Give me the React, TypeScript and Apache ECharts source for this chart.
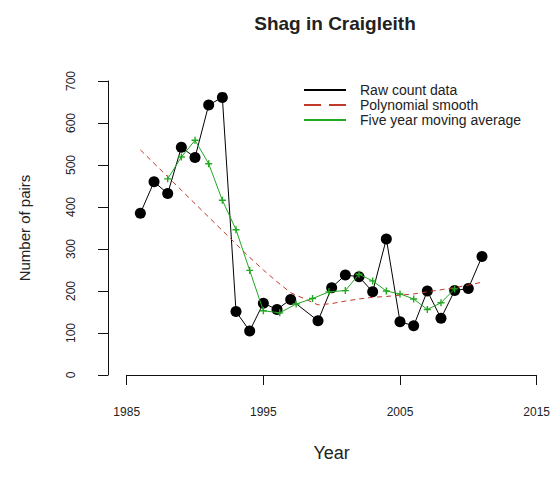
import React, { useEffect, useRef } from "react";
import * as echarts from "echarts";

const rawYears = [1986, 1987, 1988, 1989, 1990, 1991, 1992, 1993, 1994, 1995, 1996, 1997, 1999, 2000, 2001, 2002, 2003, 2004, 2005, 2006, 2007, 2008, 2009, 2010, 2011];
const rawCounts = [385, 460, 432, 542, 518, 643, 661, 151, 105, 171, 156, 180, 129, 208, 238, 234, 198, 324, 127, 117, 200, 135, 201, 206, 282];

const polySmooth = [536, 504, 472, 440, 408, 376, 344, 312, 280, 250, 222, 196, 167, 170, 176, 181, 185, 187, 190, 193, 198, 203, 208, 214, 221];

const maYears = [1988, 1989, 1990, 1991, 1992, 1993, 1994, 1995, 1996.2, 1997.4, 1998.6, 1999.8, 2001, 2002, 2003, 2004, 2005, 2006, 2007, 2008, 2009];
const maValues = [467, 519, 559, 503, 416, 346, 249, 153, 148, 169, 182, 198, 201, 240, 224, 200, 193, 181, 156, 172, 205];

const xTicks = [1985, 1995, 2005, 2015];
const yTicks = [0, 100, 200, 300, 400, 500, 600, 700];

const legendNames = ["Raw count data", "Polynomial smooth", "Five year moving average"];

const FONT = "Liberation Sans, Arial, sans-serif";
const RED = "#c0392b";
const GREEN = "#22a822";
const PLUS = "path://M4,0h2v4h4v2h-4v4h-2v-4h-4v-2h4z";

export default function App() {
  const ref = useRef<HTMLDivElement>(null);
  useEffect(() => {
    document.body.style.margin = "0";
    if (!ref.current) return;
    const chart = echarts.init(ref.current, null, { renderer: "svg" });
    chart.setOption({
      animation: false,
      backgroundColor: "#ffffff",
      textStyle: { fontFamily: FONT },
      title: {
        text: "Shag in Craigleith",
        left: 330,
        top: 9,
        textAlign: "center",
        textStyle: { fontSize: 19, fontWeight: "bold", color: "#222", fontFamily: FONT },
      },
      legend: {
        data: legendNames,
        orient: "vertical",
        left: 303,
        top: 83,
        padding: 0,
        itemWidth: 42,
        itemHeight: 14,
        itemGap: 1,
        selectedMode: false,
        itemStyle: { color: "transparent", borderColor: "transparent", borderWidth: 0, opacity: 0 },
        textStyle: { fontSize: 14, color: "#222", fontFamily: FONT, padding: [0, 0, 0, 9] },
      },
      grid: { left: 126.7, right: 16.3, top: 81, bottom: 116, containLabel: false },
      xAxis: {
        type: "value",
        min: xTicks[0],
        max: xTicks[xTicks.length - 1],
        interval: 10,
        offset: 12,
        name: "Year",
        nameLocation: "middle",
        nameGap: 57,
        nameTextStyle: { fontSize: 18, color: "#222", fontFamily: FONT },
        axisLine: { show: true, lineStyle: { color: "#111", width: 1 } },
        axisTick: { show: true, length: 10, lineStyle: { color: "#111" } },
        axisLabel: { margin: 19, fontSize: 12, color: "#222", fontFamily: FONT, formatter: (v: number) => String(v) },
        splitLine: { show: false },
      },
      yAxis: {
        type: "value",
        min: yTicks[0],
        max: yTicks[yTicks.length - 1],
        interval: 100,
        offset: 18.7,
        name: "Number of pairs",
        nameLocation: "middle",
        nameRotate: 90,
        nameGap: 76,
        nameTextStyle: { fontSize: 15, color: "#222", fontFamily: FONT },
        axisLine: { show: true, lineStyle: { color: "#111", width: 1 } },
        axisTick: { show: true, length: 10, lineStyle: { color: "#111" } },
        axisLabel: { rotate: 90, margin: 31, fontSize: 12, color: "#222", fontFamily: FONT },
        splitLine: { show: false },
      },
      series: [
        {
          name: "raw",
          type: "line",
          data: rawYears.map((y, i) => [y, rawCounts[i]]),
          symbol: "circle",
          symbolSize: 11,
          itemStyle: { color: "#000" },
          lineStyle: { color: "#000", width: 1 },
          z: 2,
        },
        {
          name: "poly",
          type: "line",
          data: rawYears.map((y, i) => [y, polySmooth[i]]),
          symbol: "none",
          lineStyle: { color: RED, width: 1, type: [5, 4] },
          z: 3,
        },
        {
          name: "ma",
          type: "line",
          data: maYears.map((y, i) => [y, maValues[i]]),
          symbol: PLUS,
          symbolSize: 7,
          itemStyle: { color: GREEN },
          lineStyle: { color: GREEN, width: 1 },
          z: 4,
        },
        {
          name: legendNames[0],
          type: "line",
          data: [],
          symbol: "none",
          itemStyle: { color: "#000" },
          lineStyle: { color: "#000", width: 1.5 },
        },
        {
          name: legendNames[1],
          type: "line",
          data: [],
          symbol: "none",
          itemStyle: { color: RED },
          lineStyle: { color: RED, width: 1.5, type: [17, 8] },
        },
        {
          name: legendNames[2],
          type: "line",
          data: [],
          symbol: "none",
          itemStyle: { color: GREEN },
          lineStyle: { color: GREEN, width: 1.5 },
        },
      ],
    });
    return () => chart.dispose();
  }, []);
  return <div ref={ref} style={{ width: 553, height: 491 }} />;
}
